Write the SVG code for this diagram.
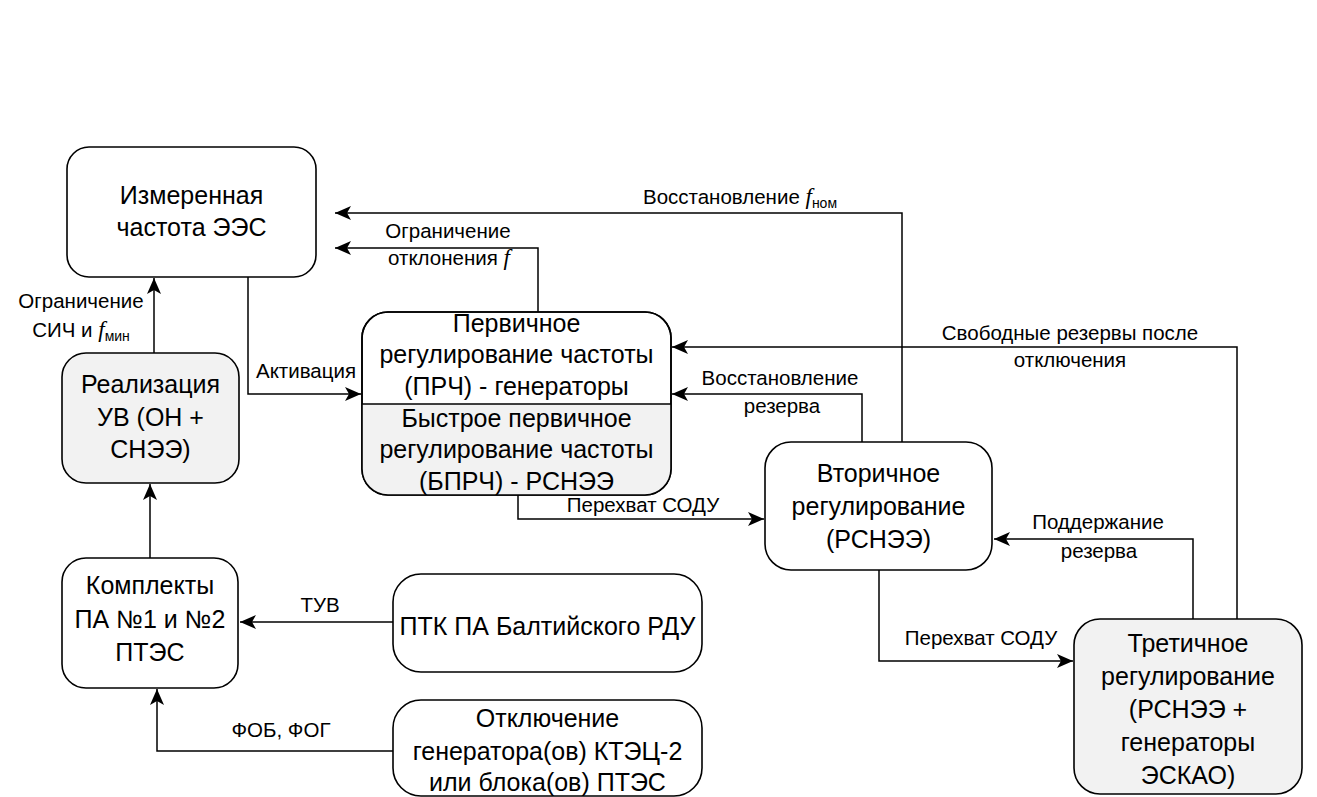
<svg xmlns="http://www.w3.org/2000/svg" width="1317" height="797" viewBox="0 0 1317 797">
<style>
.box{fill:#fff;stroke:#000;stroke-width:1.6}
.grey{fill:#f2f2f2}
.nofill{fill:none}
.t{font-family:"Liberation Sans",Arial,sans-serif;font-size:25px;text-anchor:middle;fill:#000}
.l{font-family:"Liberation Sans",Arial,sans-serif;font-size:20.5px;text-anchor:middle;fill:#000}
.f{font-family:"Liberation Serif","Times New Roman",serif;font-style:italic;font-size:23px}
.sub{font-size:14px}
.conn path{fill:none;stroke:#000;stroke-width:1.5;marker-end:url(#arr)}
</style>
<defs>
<marker id="arr" markerUnits="userSpaceOnUse" markerWidth="18" markerHeight="14" refX="16" refY="7" orient="auto">
<path d="M0,0 L16,7 L0,14 L4,7 Z" fill="#000"/>
</marker>
</defs>
<rect width="1317" height="797" fill="#fff"/>

<g id="conn" class="conn">
<path id="e-activation" d="M248,277 V394 H361"/>
<path id="e-b-a" d="M154,353 V278"/>
<path id="e-c-a" d="M538,312 V248 H335"/>
<path id="e-d-a" d="M902,442 V213 H335"/>
<path id="e-d-c" d="M862,442 V394 H672"/>
<path id="e-e-c" d="M1237,619 V347 H672"/>
<path id="e-c-d" d="M518,495 V519 H764"/>
<path id="e-d-e" d="M879,570 V661 H1073"/>
<path id="e-e-d" d="M1193,619 V539 H994"/>
<path id="e-h-b" d="M150,558 V484"/>
<path id="e-f-h" d="M393,622 H240"/>
<path id="e-g-h" d="M393,751 H157 V689"/>
</g>

<g id="labels">
<text class="l" x="306" y="378">Активация</text>
<text class="l" x="81" y="308">Ограничение</text>
<text class="l" x="81" y="337">СИЧ и <tspan class="f">f</tspan><tspan class="sub" dy="4">мин</tspan></text>
<text class="l" x="448" y="238">Ограничение</text>
<text class="l" x="449" y="265">отклонения <tspan class="f">f</tspan></text>
<text class="l" x="740" y="204">Восстановление <tspan class="f">f</tspan><tspan class="sub" dy="4">ном</tspan></text>
<text class="l" x="1070" y="340">Свободные резервы после</text>
<text class="l" x="1070" y="367">отключения</text>
<text class="l" x="780" y="385">Восстановление</text>
<text class="l" x="782" y="413">резерва</text>
<text class="l" x="643" y="512">Перехват СОДУ</text>
<text class="l" x="981" y="645">Перехват СОДУ</text>
<text class="l" x="1098" y="529">Поддержание</text>
<text class="l" x="1099" y="558">резерва</text>
<text class="l" x="320" y="612">ТУВ</text>
<text class="l" x="281" y="737">ФОБ, ФОГ</text>
</g>

<g id="node-measured">
<rect class="box" x="67" y="147" width="249" height="130" rx="22"/>
<text class="t" x="191.5" y="204">Измеренная</text>
<text class="t" x="191.5" y="236">частота ЭЭС</text>
</g>

<g id="node-realization">
<rect class="box grey" x="62" y="353" width="177" height="130" rx="24"/>
<text class="t" x="150.5" y="393">Реализация</text>
<text class="t" x="150.5" y="426">УВ (ОН +</text>
<text class="t" x="150.5" y="458">СНЭЭ)</text>
</g>

<g id="node-primary">
<rect class="box" x="362" y="312" width="309" height="183" rx="26"/>
<path class="grey" d="M362,404 H671 V469 A26,26 0 0 1 645,495 H388 A26,26 0 0 1 362,469 Z"/>
<rect class="box nofill" x="362" y="312" width="309" height="183" rx="26"/>
<line x1="362" y1="404" x2="671" y2="404" stroke="#000" stroke-width="1.6"/>
<text class="t" x="516.5" y="332">Первичное</text>
<text class="t" x="516.5" y="363">регулирование частоты</text>
<text class="t" x="516.5" y="395">(ПРЧ) - генераторы</text>
<text class="t" x="516.5" y="427">Быстрое первичное</text>
<text class="t" x="516.5" y="458">регулирование частоты</text>
<text class="t" x="516.5" y="490">(БПРЧ) - РСНЭЭ</text>
</g>

<g id="node-secondary">
<rect class="box" x="765" y="442" width="227" height="128" rx="26"/>
<text class="t" x="878.5" y="482">Вторичное</text>
<text class="t" x="878.5" y="515">регулирование</text>
<text class="t" x="878.5" y="548">(РСНЭЭ)</text>
</g>

<g id="node-tertiary">
<rect class="box grey" x="1074" y="619" width="228" height="175" rx="26"/>
<text class="t" x="1188" y="652">Третичное</text>
<text class="t" x="1188" y="685">регулирование</text>
<text class="t" x="1188" y="718">(РСНЭЭ +</text>
<text class="t" x="1188" y="751">генераторы</text>
<text class="t" x="1188" y="784">ЭСКАО)</text>
</g>

<g id="node-ptk">
<rect class="box" x="393" y="574" width="309" height="98" rx="28"/>
<text class="t" x="547.5" y="635">ПТК ПА Балтийского РДУ</text>
</g>

<g id="node-trip">
<rect class="box" x="393" y="700" width="309" height="96" rx="28"/>
<text class="t" x="547.5" y="727">Отключение</text>
<text class="t" x="547.5" y="760">генератора(ов) КТЭЦ-2</text>
<text class="t" x="547.5" y="791">или блока(ов) ПТЭС</text>
</g>

<g id="node-pa">
<rect class="box" x="62" y="558" width="176" height="130" rx="24"/>
<text class="t" x="150" y="594">Комплекты</text>
<text class="t" x="150" y="628">ПА №1 и №2</text>
<text class="t" x="150" y="661">ПТЭС</text>
</g>
</svg>
